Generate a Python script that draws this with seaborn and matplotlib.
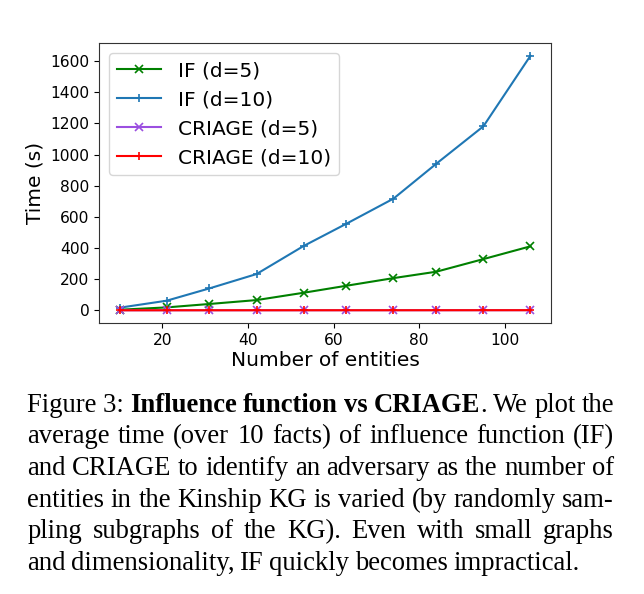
import matplotlib
matplotlib.use("Agg")
import matplotlib.pyplot as plt
import seaborn as sns
import pandas as pd

entities = [10, 21, 31, 42, 53, 63, 74, 84, 95, 106]
if_d5 = [4, 19, 41, 66, 113, 158, 207, 248, 329, 411]
if_d10 = [17, 62, 141, 233, 413, 556, 717, 941, 1181, 1634]
criage_d5 = [0.5, 0.5, 0.6, 0.6, 0.7, 0.7, 0.8, 0.8, 0.9, 1.0]
criage_d10 = [0.6, 0.7, 0.7, 0.8, 0.8, 0.9, 0.9, 1.0, 1.1, 1.2]

labels = ["IF (d=5)", "IF (d=10)", "CRIAGE (d=5)", "CRIAGE (d=10)"]
series = [if_d5, if_d10, criage_d5, criage_d10]
colors = ["green", "#1f77b4", "#9b4fe0", "red"]
markers = ["x", "+", "x", "+"]

caption = [
    [("Figure 3:", False), ("Influence", True), ("function", True), ("vs", True),
     [("CRIAGE", True), (".", False)], ("We", False), ("plot", False), ("the", False)],
    "average time (over 10 facts) of influence function (IF)",
    "and CRIAGE to identify an adversary as the number of",
    "entities in the Kinship KG is varied (by randomly sam-",
    "pling subgraphs of the KG). Even with small graphs",
    "and dimensionality, IF quickly becomes impractical.",
]

fig = plt.figure(figsize=(6.44, 5.94), dpi=100)
ax = fig.add_axes([0.1537, 0.4562, 0.7019, 0.4714])

for lab, vals, c, m in zip(labels, series, colors, markers):
    df = pd.DataFrame({"n": entities, "t": vals})
    sns.lineplot(data=df, x="n", y="t", ax=ax, color=c, marker=m, markersize=6,
                 markeredgecolor=c, markeredgewidth=1.2, linewidth=1.5, label=lab)

ax.set_xticks([20, 40, 60, 80, 100])
ax.set_yticks(range(0, 1601, 200))
ax.tick_params(labelsize=11.2)
ax.set_xlabel("Number of entities", fontsize=14.5, labelpad=2)
ax.set_ylabel("Time (s)", fontsize=14.5, labelpad=4)
for s in ax.spines.values():
    s.set_color("#333333")
ax.legend(loc="upper left", fontsize=14.5, handlelength=2.2)

# caption, justified by hand
fig.canvas.draw()
r = fig.canvas.get_renderer()
W = fig.bbox.width
left, right = 27.3 / W, 614 / W
fs = 19.2
y0 = 1 - 411.7 / 594
dy = 31.7 / 594


def mk(s, b, x, y):
    return fig.text(x, y, s, fontsize=fs, family="Liberation Serif",
                    fontweight="bold" if b else "normal", va="baseline", ha="left")


for i, line in enumerate(caption):
    y = y0 - i * dy
    if isinstance(line, str):
        words = [[(w, False)] for w in line.split()]
    else:
        words = [w if isinstance(w, list) else [w] for w in line]
    objs = []
    widths = []
    for w in words:
        parts = [mk(s, b, 0, y) for s, b in w]
        ws = [p.get_window_extent(r).width / W for p in parts]
        objs.append((parts, ws))
        widths.append(sum(ws))
    if i == len(caption) - 1:
        gap = 5.5 / W
    else:
        gap = (right - left - sum(widths)) / (len(words) - 1)
    x = left
    for parts, ws in objs:
        for p, pw in zip(parts, ws):
            p.set_x(x)
            x += pw
        x += gap

fig.savefig("out.png", dpi=100)
